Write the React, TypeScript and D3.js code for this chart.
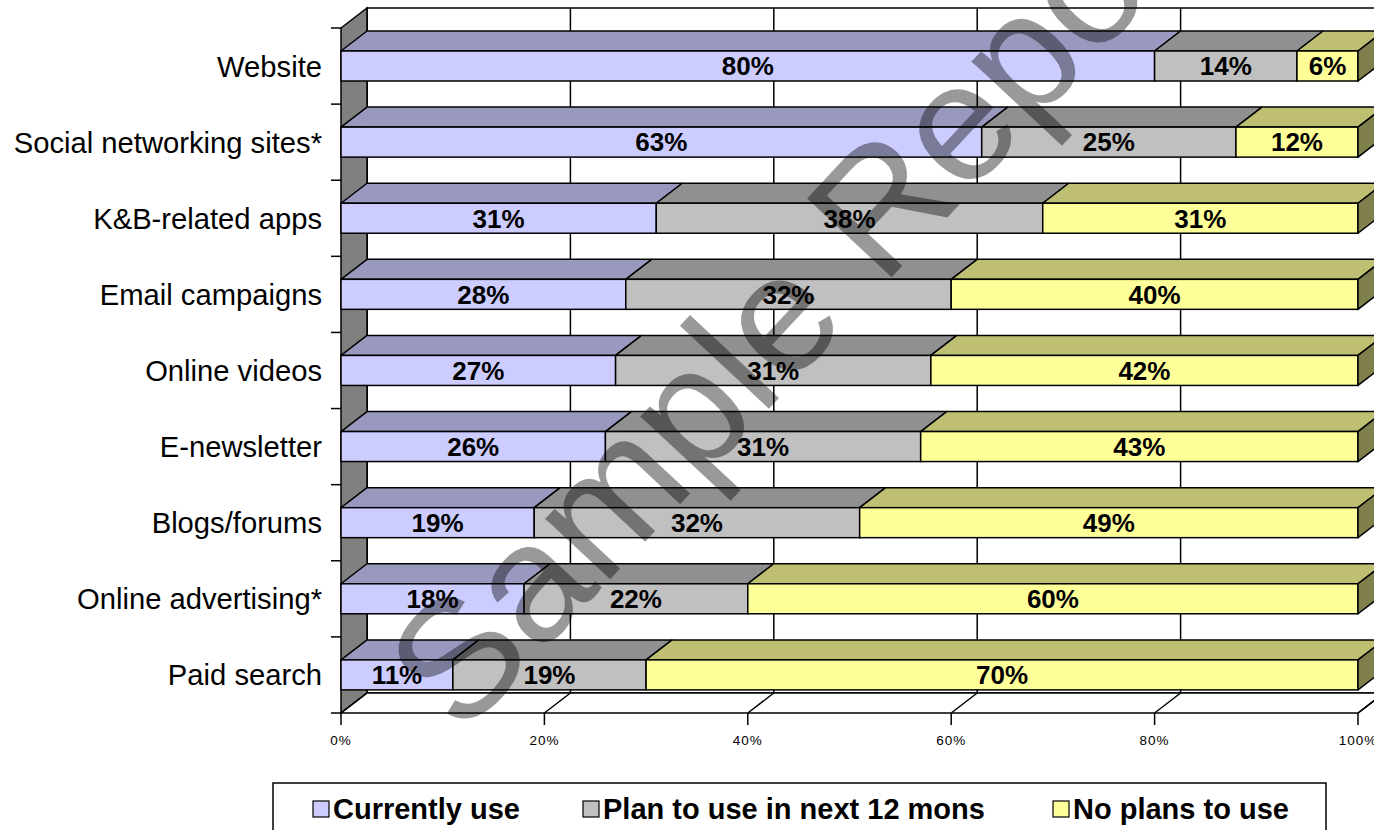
import React from "react";
import * as d3 from "d3";

const categories = [
  "Website",
  "Social networking sites*",
  "K&B-related apps",
  "Email campaigns",
  "Online videos",
  "E-newsletter",
  "Blogs/forums",
  "Online advertising*",
  "Paid search",
];
const currentlyUse = [80, 63, 31, 28, 27, 26, 19, 18, 11];
const planToUse = [14, 25, 38, 32, 31, 31, 32, 22, 19];
const noPlans = [6, 12, 31, 40, 42, 43, 49, 60, 70];
const seriesNames = ["Currently use", "Plan to use in next 12 mons", "No plans to use"];
const xTicks = [0, 20, 40, 60, 80, 100];

const W = 1374;
const H = 830;
const DX = 26;
const DY = -20;
const FRONT = ["#CCCCFF", "#C0C0C0", "#FFFF99"];
const TOP = ["#9999BF", "#909090", "#BFBF73"];
const SIDE = ["#66667F", "#606060", "#80804D"];
const FONT = "Arial, 'Liberation Sans', Helvetica, sans-serif";

export default function App() {
  const x = d3.scaleLinear().domain([0, 100]).range([341, 1358]);
  const y = d3.scaleBand<string>().domain(categories).range([28, 713]).padding(0);
  const bw = y.bandwidth();
  const barOff = 23;
  const barH = 30;
  const floorY = y.range()[1];
  const topY = y.range()[0];
  const series = [currentlyUse, planToUse, noPlans];

  const rows = categories.map((c, i) => {
    let acc = 0;
    const segs = series.map((s, k) => {
      const v0 = acc;
      acc += s[i];
      return { k, v0, v1: acc, v: s[i] };
    });
    return { c, segs };
  });

  const poly = (pts: [number, number][]) => pts.map((p) => p.join(",")).join(" ");
  const legendTextX = [333, 603, 1073];

  return (
    <svg
      width={W}
      height={H}
      style={{ position: "absolute", left: 0, top: 0, background: "#fff" }}
      fontFamily={FONT}
    >
      {/* back wall */}
      <polygon
        points={poly([
          [x(0) + DX, topY + DY],
          [x(100) + DX, topY + DY],
          [x(100) + DX, floorY + DY],
          [x(0) + DX, floorY + DY],
        ])}
        fill="#fff"
        stroke="#000"
        strokeWidth={1.5}
      />
      {xTicks.map((t) => (
        <line
          key={"g" + t}
          x1={x(t) + DX}
          x2={x(t) + DX}
          y1={topY + DY}
          y2={floorY + DY}
          stroke="#000"
          strokeWidth={1.5}
        />
      ))}
      {/* left wall */}
      <polygon
        points={poly([
          [x(0), topY],
          [x(0) + DX, topY + DY],
          [x(0) + DX, floorY + DY],
          [x(0), floorY],
        ])}
        fill="#808080"
        stroke="#000"
        strokeWidth={1.5}
      />
      {/* floor */}
      <polygon
        points={poly([
          [x(0), floorY],
          [x(0) + DX, floorY + DY],
          [x(100) + DX, floorY + DY],
          [x(100), floorY],
        ])}
        fill="#fff"
        stroke="#000"
        strokeWidth={1.5}
      />
      {xTicks.map((t) => (
        <g key={"f" + t}>
          <line x1={x(t)} y1={floorY} x2={x(t) + DX} y2={floorY + DY} stroke="#000" strokeWidth={1.5} />
          <line x1={x(t)} y1={floorY} x2={x(t)} y2={floorY + 12} stroke="#000" strokeWidth={1.5} />
          <text
            x={x(t)}
            y={745}
            textAnchor="middle"
            fontSize={13.5}
            letterSpacing={1}
            fill="#000"
          >
            {t + "%"}
          </text>
        </g>
      ))}
      {/* category ticks */}
      {d3.range(categories.length + 1).map((i) => (
        <line
          key={"ct" + i}
          x1={x(0) - 10}
          x2={x(0)}
          y1={topY + i * bw}
          y2={topY + i * bw}
          stroke="#000"
          strokeWidth={1.5}
        />
      ))}
      {/* bars */}
      {rows.map((r) => {
        const yt = (y(r.c) as number) + barOff;
        const yb = yt + barH;
        return (
          <g key={r.c}>
            {r.segs.map((s) => {
              const x0 = x(s.v0);
              const x1 = x(s.v1);
              return (
                <g key={s.k}>
                  <polygon
                    points={poly([
                      [x0, yt],
                      [x1, yt],
                      [x1 + DX, yt + DY],
                      [x0 + DX, yt + DY],
                    ])}
                    fill={TOP[s.k]}
                    stroke="#000"
                    strokeWidth={1.5}
                    strokeLinejoin="round"
                  />
                  <rect x={x0} y={yt} width={x1 - x0} height={barH} fill={FRONT[s.k]} stroke="#000" strokeWidth={1.5} />
                  {s.k === 2 && (
                    <polygon
                      points={poly([
                        [x1, yt],
                        [x1 + DX, yt + DY],
                        [x1 + DX, yb + DY],
                        [x1, yb],
                      ])}
                      fill={SIDE[s.k]}
                      stroke="#000"
                      strokeWidth={1.5}
                      strokeLinejoin="round"
                    />
                  )}
                </g>
              );
            })}
            {r.segs.map((s) => (
              <text
                key={"l" + s.k}
                x={(x(s.v0) + x(s.v1)) / 2}
                y={yt + barH / 2}
                dy="0.36em"
                textAnchor="middle"
                fontSize={26}
                fontWeight="bold"
                fill="#000"
              >
                {s.v + "%"}
              </text>
            ))}
            <text
              x={322}
              y={yt + barH / 2}
              dy="0.36em"
              textAnchor="end"
              fontSize={29.2}
              fill="#000"
            >
              {r.c}
            </text>
          </g>
        );
      })}
      {/* watermark */}
      <text
        transform="translate(462,738) rotate(-47)"
        fontSize={168}
        fill="#000"
        fillOpacity={0.4}
      >
        Sample Report
      </text>
      {/* legend */}
      <rect x={273} y={783} width={1053} height={60} fill="#fff" stroke="#000" strokeWidth={1.5} />
      {seriesNames.map((n, k) => (
        <g key={n}>
          <rect
            x={legendTextX[k] - 20}
            y={801}
            width={16}
            height={16}
            fill={FRONT[k]}
            stroke="#000"
            strokeWidth={1.2}
          />
          <text x={legendTextX[k]} y={819} fontSize={29} fontWeight="bold" fill="#000">
            {n}
          </text>
        </g>
      ))}
    </svg>
  );
}
